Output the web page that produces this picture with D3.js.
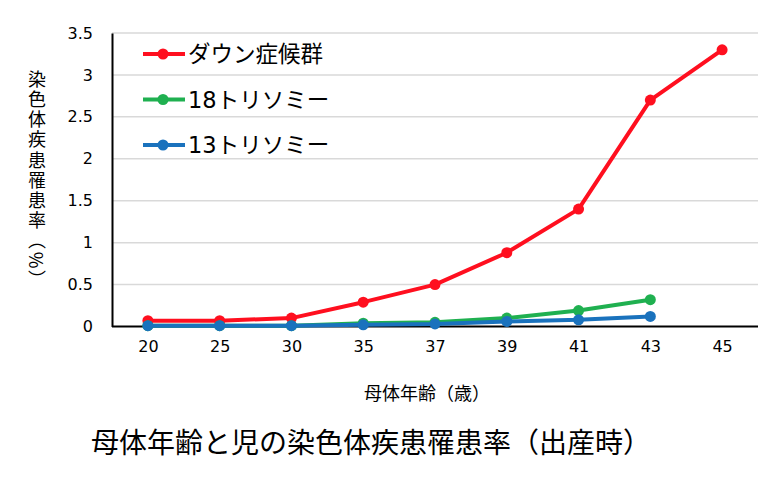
<!DOCTYPE html>
<html><head><meta charset="utf-8">
<script src="https://cdn.jsdelivr.net/npm/d3@7"></script>
<style>body{margin:0;background:#fff;} svg{display:block;}</style>
</head><body>
<script>
const ages = ["20","25","30","35","37","39","41","43","45"];
const down = [0.07,0.07,0.1,0.29,0.5,0.88,1.4,2.7,3.3];
const tri18 = [0.01,0.01,0.01,0.04,0.05,0.1,0.19,0.32,null];
const tri13 = [0.01,0.01,0.01,0.02,0.03,0.06,0.08,0.12,null];
const seriesNames = ["ダウン症候群","18トリソミー","13トリソミー"];
const seriesColors = ["#ff0f1f","#1fb050","#1a72bd"];
const yTicks = [0,0.5,1,1.5,2,2.5,3,3.5];
const yTickLabels = ["0","0.5","1","1.5","2","2.5","3","3.5"];

(function(){
const W=778,H=492;
const svg=d3.select("body").append("svg").attr("width",W).attr("height",H);
const mL=112,mR=758,mT=33,mB=326.5;
const x=d3.scalePoint().domain(ages).range([mL,mR]).padding(0.5);
const y=d3.scaleLinear().domain([0,3.5]).range([mB,mT]);

svg.append("g").selectAll("line").data(yTicks.filter(d=>d>0)).join("line")
 .attr("x1",mL).attr("x2",mR).attr("y1",d=>y(d)).attr("y2",d=>y(d))
 .attr("stroke","#d9d9d9").attr("stroke-width",1.5);

const ya=svg.append("g").attr("transform",`translate(${mL},0)`)
 .call(d3.axisLeft(y).tickValues(yTicks).tickFormat((d,i)=>yTickLabels[i]).tickSize(0).tickPadding(19));
ya.select(".domain").attr("stroke","#000").attr("stroke-width",2);
ya.selectAll("text").attr("font-family","DejaVu Sans").attr("font-size",16).attr("fill","#000");
const xa=svg.append("g").attr("transform",`translate(0,${mB})`)
 .call(d3.axisBottom(x).tickSize(0).tickPadding(14));
xa.select(".domain").attr("stroke","#000").attr("stroke-width",2).attr("d",`M${mL},0H${mR}`);
xa.selectAll("text").attr("font-family","DejaVu Sans").attr("font-size",16).attr("fill","#000");

const all=[down,tri18,tri13];
all.forEach((vals,si)=>{
  const pts=ages.map((a,i)=>({a,v:vals[i]})).filter(p=>p.v!=null);
  const line=d3.line().x(p=>x(p.a)).y(p=>y(p.v));
  svg.append("path").datum(pts).attr("d",line).attr("fill","none")
    .attr("stroke",seriesColors[si]).attr("stroke-width",4).attr("stroke-linejoin","round");
  svg.append("g").selectAll("circle").data(pts).join("circle")
    .attr("cx",p=>x(p.a)).attr("cy",p=>y(p.v)).attr("r",5.5).attr("fill",seriesColors[si]);
});

const lg=svg.append("g");
seriesNames.forEach((n,i)=>{
  const ly=54+i*45.5;
  lg.append("line").attr("x1",143).attr("x2",185).attr("y1",ly).attr("y2",ly)
    .attr("stroke",seriesColors[i]).attr("stroke-width",4);
  lg.append("circle").attr("cx",163).attr("cy",ly).attr("r",5.5).attr("fill",seriesColors[i]);
  lg.append("text").attr("x",188).attr("y",ly).attr("dy","0.36em")
    .attr("font-family","'DejaVu Sans','Noto Sans CJK JP'").attr("font-size",22.5).attr("fill","#000").text(n);
});

svg.append("text").attr("x",37).attr("y",70)
  .style("writing-mode","vertical-rl")
  .attr("font-family","'Noto Sans CJK JP'").attr("font-size",18).attr("letter-spacing",2.2).attr("fill","#000")
  .text("染色体疾患罹患率（%）");

svg.append("text").attr("x",427).attr("y",400).attr("text-anchor","middle")
  .attr("font-family","'Noto Sans CJK JP'").attr("font-size",18).attr("fill","#000").text("母体年齢（歳）");

svg.append("text").attr("x",371).attr("y",453).attr("text-anchor","middle")
  .attr("font-family","'Noto Sans CJK JP'").attr("font-size",28).attr("fill","#000")
  .text("母体年齢と児の染色体疾患罹患率（出産時）");
})();
</script>
</body></html>
